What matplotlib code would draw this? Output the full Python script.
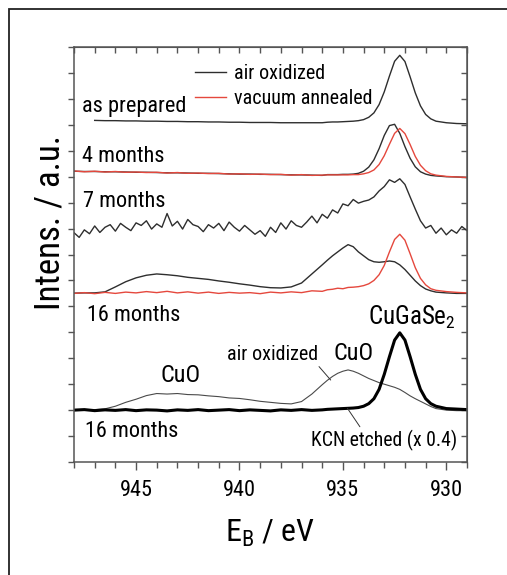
import numpy as np
import matplotlib
matplotlib.use("Agg")
import matplotlib.pyplot as plt
from matplotlib import font_manager as fm
from matplotlib.patches import Rectangle
from matplotlib.ticker import MultipleLocator

names = {f.name for f in fm.fontManager.ttflist}
FONT = "Liberation Sans"
for cand in ["Liberation Sans Narrow", "Arial Narrow", "Roboto Condensed",
             "Archivo Narrow", "PT Sans Narrow"]:
    if cand in names:
        FONT = cand
        break
plt.rcParams["font.family"] = [FONT, "DejaVu Sans"]

# ---------------- data (binding energy grid, eV) ----------------
E = [948, 947.5, 947, 946.5, 946, 945.5, 945, 944.5, 944, 943.5, 943, 942.5, 942,
     941.5, 941, 940.5, 940, 939.5, 939, 938.5, 938, 937.5, 937, 936.5, 936,
     935.75, 935.5, 935.25, 935, 934.75, 934.5, 934.25, 934, 933.75, 933.5, 933.25,
     933, 932.75, 932.5, 932.25, 932, 931.75, 931.5, 931.25, 931, 930.75, 930.5,
     930, 929.5, 929]

as_prepared = [np.nan, np.nan, 13.17, 13.16, 13.16, 13.15, 13.15, 13.14, 13.14, 13.13,
               13.13, 13.12, 13.12, 13.11, 13.11, 13.10, 13.10, 13.09, 13.09, 13.09,
               13.08, 13.08, 13.08, 13.08, 13.08,
               13.10, 13.11, 13.11, 13.12, 13.13, 13.14, 13.16, 13.20, 13.29, 13.46,
               13.78, 14.27, 14.88, 15.45, 15.68, 15.44, 14.85, 14.23, 13.73, 13.40,
               13.23, 13.14, 13.08, 13.05, 13.04]

m4_air = [11.21, 11.20, 11.20, 11.19, 11.19, 11.18, 11.17, 11.17, 11.16, 11.15, 11.15,
          11.14, 11.13, 11.13, 11.12, 11.11, 11.10, 11.10, 11.09, 11.09, 11.08, 11.07,
          11.07, 11.06, 11.05,
          11.08, 11.08, 11.08, 11.09, 11.09, 11.10, 11.13, 11.21, 11.37, 11.65, 12.08,
          12.59, 12.97, 13.02, 12.67, 12.16, 11.71, 11.38, 11.19, 11.10, 11.05, 11.03,
          11.00, 10.99, 10.97]

m4_vac = [11.22, 11.19, 11.21, 11.18, 11.20, 11.17, 11.18, 11.16, 11.17, 11.14, 11.16,
          11.13, 11.14, 11.12, 11.13, 11.10, 11.11, 11.09, 11.10, 11.08, 11.09, 11.06,
          11.08, 11.05, 11.06,
          11.07, 11.07, 11.07, 11.07, 11.07, 11.08, 11.08, 11.11, 11.16, 11.26, 11.47,
          11.81, 12.25, 12.67, 12.86, 12.66, 12.24, 11.78, 11.44, 11.23, 11.11, 11.06,
          11.01, 10.99, 10.97]

m16_air = [6.51, 6.52, 6.52, 6.56, 6.75, 6.95, 7.10, 7.20, 7.25, 7.22, 7.18, 7.12, 7.08,
           7.04, 6.98, 6.93, 6.87, 6.82, 6.76, 6.72, 6.71, 6.75, 6.90, 7.25, 7.60,
           7.78, 7.95, 8.10, 8.25, 8.38, 8.30, 8.10, 7.95, 7.80, 7.72, 7.70, 7.72,
           7.75, 7.72, 7.60, 7.42, 7.20, 6.98, 6.80, 6.67, 6.60, 6.55, 6.52, 6.50, 6.50]

m16_vac = [6.50, 6.53, 6.49, 6.54, 6.50, 6.55, 6.52, 6.57, 6.53, 6.58, 6.52, 6.56, 6.51,
           6.55, 6.50, 6.54, 6.51, 6.53, 6.49, 6.55, 6.52, 6.56, 6.53, 6.60, 6.58,
           6.64, 6.66, 6.70, 6.68, 6.73, 6.74, 6.76, 6.80, 6.87, 7.00, 7.22, 7.58,
           8.10, 8.58, 8.78, 8.55, 8.03, 7.49, 7.08, 6.83, 6.68, 6.62, 6.57, 6.54, 6.52]

m16b_air = [2.01, 1.99, 2.02, 2.05, 2.15, 2.30, 2.42, 2.56, 2.64, 2.62, 2.64, 2.60, 2.59,
            2.55, 2.52, 2.47, 2.45, 2.40, 2.34, 2.30, 2.26, 2.24, 2.33, 2.62, 2.98,
            3.15, 3.30, 3.42, 3.50, 3.55, 3.50, 3.42, 3.32, 3.22, 3.14, 3.06, 3.00,
            2.94, 2.88, 2.80, 2.68, 2.55, 2.44, 2.34, 2.24, 2.14, 2.06, 2.00, 1.98, 1.98]

m16b_kcn = [2.00, 2.02, 1.98, 2.01, 1.99, 2.02, 1.98, 2.01, 2.00, 1.97, 2.01, 1.99, 2.02,
            1.98, 2.00, 2.02, 1.98, 2.01, 1.99, 1.97, 2.01, 1.99, 2.02, 1.99, 2.01,
            2.03, 2.04, 2.05, 2.06, 2.07, 2.08, 2.10, 2.15, 2.25, 2.44, 2.80, 3.38,
            4.06, 4.70, 4.98, 4.70, 4.06, 3.38, 2.80, 2.44, 2.25, 2.15, 2.06, 2.04, 2.02]

# 7 months spectrum (noisier), 0.25 eV steps
E7 = [948.00, 947.75, 947.50, 947.25, 947.00, 946.75, 946.50, 946.25, 946.00, 945.75,
      945.50, 945.25, 945.00, 944.75, 944.50, 944.25, 944.00, 943.75, 943.50, 943.25,
      943.00, 942.75, 942.50, 942.25, 942.00, 941.75, 941.50, 941.25, 941.00, 940.75,
      940.50, 940.25, 940.00, 939.75, 939.50, 939.25, 939.00, 938.75, 938.50, 938.25,
      938.00, 937.75, 937.50, 937.25, 937.00, 936.75, 936.50, 936.25, 936.00, 935.75,
      935.50, 935.25, 935.00, 934.75, 934.50, 934.25, 934.00, 933.75, 933.50, 933.25,
      933.00, 932.75, 932.50, 932.25, 932.00, 931.75, 931.50, 931.25, 931.00, 930.75,
      930.50, 930.25, 930.00, 929.75, 929.50, 929.25, 929.00]
m7_air = [8.84, 8.66, 8.95, 8.80, 9.10, 8.85, 9.05, 9.15, 8.90, 9.20,
          9.05, 8.92, 9.22, 9.12, 9.30, 8.98, 9.18, 9.05, 9.58, 9.10,
          9.28, 8.98, 9.35, 9.15, 9.08, 8.88, 9.15, 9.02, 9.20, 8.92,
          9.25, 9.05, 8.90, 9.12, 8.95, 8.78, 8.92, 8.70, 9.05, 8.85,
          9.22, 8.98, 9.30, 9.12, 9.05, 9.25, 9.48, 9.22, 9.55, 9.40,
          9.72, 9.60, 9.95, 9.88, 10.12, 9.98, 10.05, 10.10, 10.22, 10.45,
          10.62, 10.88, 10.78, 10.92, 10.70, 10.22, 9.75, 9.30, 9.02, 9.12,
          8.82, 9.02, 8.76, 8.95, 8.82, 9.08, 8.92]

xticks_major = [945, 940, 935, 930]
legend_labels = ["air oxidized", "vacuum annealed"]

# ---------------- figure ----------------
fig = plt.figure(figsize=(5.07, 5.75), dpi=100)
ax = fig.add_axes([74 / 507, 1 - 462 / 575, 393 / 507, 415 / 575])

BLK = "#2e2e2e"
RED = "#e5483d"

ax.plot(E, as_prepared, color=BLK, lw=1.0)
h_air, = ax.plot(E, m4_air, color=BLK, lw=1.0)
h_vac, = ax.plot(E, m4_vac, color=RED, lw=1.0)
ax.plot(E7, m7_air, color=BLK, lw=1.0)
ax.plot(E, m16_air, color=BLK, lw=1.0)
ax.plot(E, m16_vac, color=RED, lw=1.0)
ax.plot(E, m16b_air, color="#4a4a4a", lw=0.8)
ax.plot(E, m16b_kcn, color="black", lw=2.2)

ax.set_xlim(948, 929)
ax.set_ylim(0, 16)

spc = "#555555"
for s in ax.spines.values():
    s.set_color(spc)
    s.set_linewidth(1.1)

ax.set_xticks(xticks_major)
ax.xaxis.set_minor_locator(MultipleLocator(1))
ax.set_yticks(np.arange(0, 17, 1))
ax.set_yticklabels([])
ax.tick_params(axis="x", which="major", direction="out", length=6, width=1.0,
               color=spc, labelsize=16, pad=7)
ax.tick_params(axis="x", which="minor", direction="out", length=4, width=1.0, color=spc)
ax.tick_params(axis="y", direction="out", length=4.5, width=1.0, color=spc)

secx = ax.secondary_xaxis("top")
secx.set_xticks(np.arange(929, 949, 1))
secx.tick_params(direction="in", length=4, width=1.0, color=spc,
                 labeltop=False, labelbottom=False)
secx.spines["top"].set_color(spc)
secy = ax.secondary_yaxis("right")
secy.set_yticks(np.arange(0, 17, 1))
secy.tick_params(direction="in", length=4.5, width=1.0, color=spc,
                 labelright=False, labelleft=False)
secy.spines["right"].set_color(spc)

ax.set_xlabel(r"$\mathregular{E_B}$ / eV", fontsize=23, labelpad=12)
ax.set_ylabel("Intens. / a.u.", fontsize=25)
ax.yaxis.set_label_coords(-0.02, 0.578)

TS = 16
ax.text(947.6, 13.51, "as prepared", fontsize=TS, va="baseline")
ax.text(947.6, 11.58, "4 months", fontsize=TS, va="baseline")
ax.text(947.56, 9.83, "7 months", fontsize=TS, va="baseline")
ax.text(947.37, 5.42, "16 months", fontsize=TS, va="baseline")
ax.text(947.47, 0.98, "16 months", fontsize=TS, va="baseline")
ax.text(933.8, 5.29, r"$\mathregular{CuGaSe_2}$", fontsize=18, va="baseline")
ax.text(935.45, 3.94, "CuO", fontsize=17.5, va="baseline")
ax.text(943.83, 3.10, "CuO", fontsize=17.5, va="baseline")

ax.annotate("air oxidized", xy=(935.59, 3.16), xytext=(940.58, 3.94),
            fontsize=14.5, va="baseline",
            arrowprops=dict(arrowstyle="-", color="#333333", lw=0.7,
                            shrinkA=0, shrinkB=0, relpos=(0.96, 0.1)))
ax.annotate("KCN etched (x 0.4)", xy=(934.78, 2.07), xytext=(936.56, 0.62),
            fontsize=14.2, va="baseline",
            arrowprops=dict(arrowstyle="-", color="#333333", lw=0.7,
                            shrinkA=0, shrinkB=0, relpos=(0.35, 1.0)))

ax.legend([h_air, h_vac], legend_labels, loc="upper left",
          bbox_to_anchor=(0.308, 0.96), frameon=False, fontsize=14.5,
          handlelength=1.55, handletextpad=0.4, labelspacing=0.32,
          borderpad=0, borderaxespad=0)

fig.add_artist(Rectangle((9 / 507, -0.05), 1.2, 1.05 - 9 / 575,
                         transform=fig.transFigure, fill=False,
                         lw=1.3, ec="#222222"))

fig.savefig("out.png", dpi=100)
